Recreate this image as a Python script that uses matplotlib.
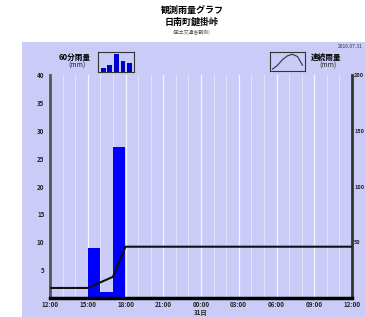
import matplotlib.pyplot as plt
import matplotlib.patches as patches

plt.rcParams['font.family'] = ['Noto Sans CJK JP', 'DejaVu Sans']

# hours from 12:00 on the 30th
bar_hours = [3, 4, 5]
bar_rain = [9, 1, 27]

line_hours = [0, 3, 4, 5, 6, 24]
line_total = [9, 9, 14, 19, 46, 46]

tick_hours = [0, 3, 6, 9, 12, 15, 18, 21, 24]
tick_labels = ['12:00', '15:00', '18:00', '21:00', '00:00\n31日', '03:00', '06:00', '09:00', '12:00']

icon_bars = [1, 2, 5, 3, 2.5]
icon_curve_x = [0, 1, 2, 3, 4, 5, 6]
icon_curve_y = [0.5, 1.5, 3, 4, 4.4, 3.8, 1.5]

bg = '#cbcbf7'

fig = plt.figure(figsize=(3.65, 3.17), dpi=100)
fig.patch.set_facecolor('white')
fig.patches.append(patches.Rectangle((22/365, 0), 1, 1 - 42/317, transform=fig.transFigure,
                                     facecolor=bg, edgecolor='none', zorder=-5))

ax = fig.add_axes([50/365, 19/317, 302/365, 223/317])
ax.set_facecolor(bg)
ax.bar(bar_hours, bar_rain, width=1, align='edge', color='#0000ff', zorder=2)
ax.set_xlim(0, 24)
ax.set_ylim(0, 40)
ax.set_yticks([5, 10, 15, 20, 25, 30, 35, 40])
ax.set_xticks(tick_hours)
ax.set_xticklabels(tick_labels)
ax.set_xticks(range(25), minor=True)
ax.grid(True, axis='x', which='minor', color='#e2e2fc', linewidth=0.7)
ax.grid(True, axis='x', which='major', color='#f4f4ff', linewidth=0.9)
ax.set_axisbelow(True)
ax.tick_params(axis='both', which='both', length=0, labelsize=4.5, colors='#222222', pad=4)
ax.tick_params(axis='x', pad=2)
for lab in ax.get_yticklabels():
    lab.set_fontweight('bold')
for lab in ax.get_xticklabels():
    lab.set_fontweight('bold')
ax.spines['top'].set_visible(False)
ax.spines['left'].set_color('#555555')
ax.spines['left'].set_linewidth(2)
ax.spines['bottom'].set_color('black')
ax.spines['bottom'].set_linewidth(2.5)
ax.spines['right'].set_color('#333333')
ax.spines['right'].set_linewidth(2)

ax2 = ax.twinx()
ax2.plot(line_hours, line_total, color='#111111', linewidth=1.5, zorder=3)
ax2.set_ylim(0, 200)
ax2.set_yticks([50, 100, 150, 200])
ax2.tick_params(axis='y', length=0, labelsize=4, colors='#222222', pad=1.5)
for lab in ax2.get_yticklabels():
    lab.set_fontweight('bold')
for s in ax2.spines.values():
    s.set_visible(False)

# titles
fig.text(192/365, 1 - 10/317, '観測雨量グラフ', ha='center', va='center', fontsize=6.5, fontweight='bold')
fig.text(192/365, 1 - 22/317, '日南町鍵掛峠', ha='center', va='center', fontsize=6.5, fontweight='bold')
fig.text(192/365, 1 - 32/317, '（国土交通省観測）', ha='center', va='center', fontsize=3.5, color='#555555')
fig.text(363/365, 1 - 46/317, '2016.07.31', ha='right', va='center', fontsize=3.5, color='#333333')

# legend texts
fig.text(75/365, 1 - 57/317, '60分雨量', ha='center', va='center', fontsize=5.5, fontweight='bold')
fig.text(77/365, 1 - 66/317, '(mm)', ha='center', va='center', fontsize=5, color='#222222')
fig.text(326/365, 1 - 57/317, '連続雨量', ha='center', va='center', fontsize=5.5, fontweight='bold')
fig.text(328/365, 1 - 66/317, '(mm)', ha='center', va='center', fontsize=5, color='#222222')

# legend icons
ic1 = fig.add_axes([98/365, 1 - 72/317, 36/365, 20/317])
ic1.set_facecolor(bg)
ic1.bar(range(len(icon_bars)), icon_bars, width=0.7, color='#0000cc')
ic1.set_xlim(-0.8, len(icon_bars) - 0.3)
ic1.set_ylim(0, 5.5)
ic1.set_xticks([])
ic1.set_yticks([])
for s in ic1.spines.values():
    s.set_color('#333333')
    s.set_linewidth(0.8)

ic2 = fig.add_axes([270/365, 1 - 71/317, 35/365, 19/317])
ic2.set_facecolor(bg)
ic2.plot(icon_curve_x, icon_curve_y, color='#333333', linewidth=0.8)
ic2.set_xlim(-0.5, 6.5)
ic2.set_ylim(0, 5)
ic2.set_xticks([])
ic2.set_yticks([])
for s in ic2.spines.values():
    s.set_color('#333333')
    s.set_linewidth(0.8)

fig.savefig('out.png', dpi=100)
